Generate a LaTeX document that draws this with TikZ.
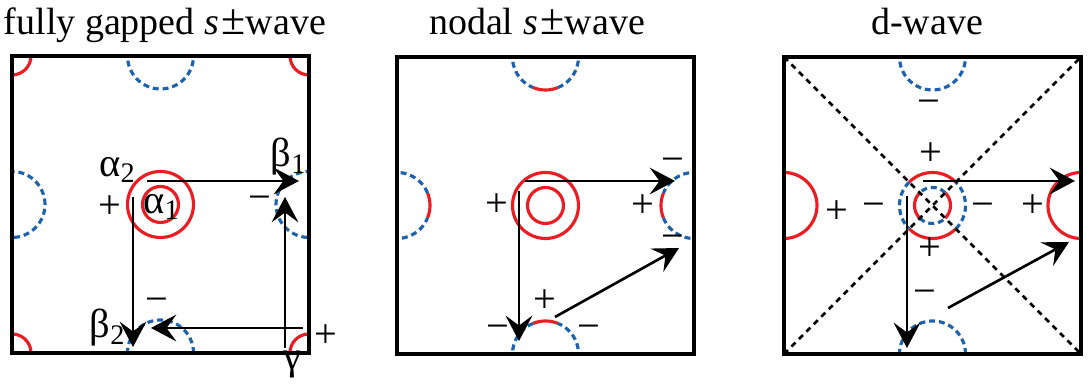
\documentclass[tikz,border=0pt]{standalone}
\usepackage{fontspec}
\setmainfont{Liberation Serif}
\newfontfamily\figserif{Liberation Serif}
\usetikzlibrary{arrows.meta}
\definecolor{fsred}{RGB}{232,30,36}
\definecolor{fsblue}{RGB}{30,98,172}
\tikzset{
    bzone/.style={line width=1pt},
    holepkt/.style={fsblue, line width=0.9pt, dash pattern=on 1.7pt off 1.1pt},
    elecpkt/.style={fsred, line width=0.9pt},
    nodeline/.style={line width=0.75pt, dash pattern=on 1.6pt off 1.4pt},
    qvec/.style={line width=0.75pt, -{Stealth[length=7.2pt,width=7.6pt,inset=2.8pt]}},
    sgn/.style={font=\figserif\fontsize{11.5}{13}\selectfont, inner sep=0pt},
    ttl/.style={font=\figserif\fontsize{10.8}{14}\selectfont, anchor=base, inner sep=0pt}
}
\newcommand{\spm}{\textit{s}\kern0.8pt{\fontsize{12.5}{14}\selectfont ±}}

\begin{document}
\begin{tikzpicture}[x=0.01cm,y=0.01cm]
    \useasboundingbox (0,0) rectangle (1090,389);

    % --- titles ---
    \node[ttl] (ttlA) at (165,354) {fully gapped \spm wave};
    \node[ttl] (ttlB) at (537,354) {nodal \spm wave};
    \node[ttl] (ttlC) at (927,354) {d-wave};

    % --- fully gapped s+- (left) ---
    \begin{scope}[shift={(12,36)}]
        \begin{scope}
            \clip (0,0) rectangle (297,297);
            \foreach \cx/\cy in {0/0,297/0,0/297,297/297}
                \draw[elecpkt] (\cx,\cy) circle (19);
            \foreach \cx/\cy in {148.5/0,148.5/297,0/148.5,297/148.5}
                \draw[holepkt] (\cx,\cy) circle (33);
        \end{scope}
        \draw[elecpkt] (148.5,148.5) circle (33) (148.5,148.5) circle (18);
        \draw[bzone] (0,0) rectangle (297,297);

        % scattering vectors
        \coordinate (Aa) at (135,172); \coordinate (Ab) at (287,172);
        \coordinate (Ac) at (121,156); \coordinate (Ad) at (121,6);
        \coordinate (Ae) at (273,5);   \coordinate (Af) at (273,156);
        \coordinate (Ag) at (291,25);  \coordinate (Ah) at (139,25);
        \draw[qvec] (Aa) -- (Ab);
        \draw[qvec] (Ac) -- (Ad);
        \draw[qvec] (Ae) -- (Af);
        \draw[qvec] (Ag) -- (Ah);

        % labels
        \node[sgn] (alphaB) at (106,183) {α\textsubscript{2}};
        \node[sgn] (alphaA) at (150,146) {α\textsubscript{1}};
        \node[sgn] (betaA) at (277,196) {β\textsubscript{1}};
        \node[sgn] (betaB) at (96,25) {β\textsubscript{2}};
        \node[sgn] (gammaA) at (280,-12) {γ};
        \node[sgn] (sgnAa) at (98,146) {+};
        \node[sgn] (sgnAb) at (248,150) {−};
        \node[sgn] (sgnAc) at (145,48) {−};
        \node[sgn] (sgnAd) at (314,17) {+};
    \end{scope}

    % --- nodal s+- (middle) ---
    \begin{scope}[shift={(397,35)}]
        \begin{scope}
            \clip (0,0) rectangle (297,297);
            \draw[holepkt] (148.5,297) ++(292:33) arc[start angle=292, end angle=608, radius=33];
            \draw[elecpkt] (148.5,297) ++(248:33) arc[start angle=248, end angle=292, radius=33];
            \draw[holepkt] (148.5,0) ++(112:33) arc[start angle=112, end angle=428, radius=33];
            \draw[elecpkt] (148.5,0) ++(68:33) arc[start angle=68, end angle=112, radius=33];
            \draw[holepkt] (0,148.5) ++(22:33) arc[start angle=22, end angle=338, radius=33];
            \draw[elecpkt] (0,148.5) ++(-22:33) arc[start angle=-22, end angle=22, radius=33];
            \draw[holepkt] (297,148.5) ++(202:33) arc[start angle=202, end angle=518, radius=33];
            \draw[elecpkt] (297,148.5) ++(158:33) arc[start angle=158, end angle=202, radius=33];
        \end{scope}
        \draw[elecpkt] (148.5,148.5) circle (33) (148.5,148.5) circle (18);
        \draw[bzone] (0,0) rectangle (297,297);

        % scattering vectors
        \coordinate (Ba) at (128,173); \coordinate (Bb) at (278,173);
        \coordinate (Bc) at (122,163); \coordinate (Bd) at (122,13);
        \coordinate (Be) at (158,37);  \coordinate (Bf) at (282,106);
        \draw[qvec] (Ba) -- (Bb);
        \draw[qvec] (Bc) -- (Bd);
        \draw[qvec] (Be) -- (Bf);

        % signs
        \node[sgn] (sgnBa) at (100,149) {+};
        \node[sgn] (sgnBb) at (246,148) {+};
        \node[sgn] (sgnBc) at (276,189) {−};
        \node[sgn] (sgnBd) at (276,112) {−};
        \node[sgn] (sgnBe) at (148,53) {+};
        \node[sgn] (sgnBf) at (101,22) {−};
        \node[sgn] (sgnBg) at (192,22) {−};
    \end{scope}

    % --- d-wave (right) ---
    \begin{scope}[shift={(784,35)}]
        \begin{scope}
            \clip (0,0) rectangle (297,297);
            \draw[holepkt] (148.5,297) circle (33);
            \draw[holepkt] (148.5,0) circle (33);
            \draw[elecpkt] (0,148.5) circle (33);
            \draw[elecpkt] (297,148.5) circle (33);
        \end{scope}
        % central pockets with sign change
        \draw[elecpkt] (148.5,148.5) ++(45:33) arc[start angle=45, end angle=135, radius=33];
        \draw[elecpkt] (148.5,148.5) ++(225:33) arc[start angle=225, end angle=315, radius=33];
        \draw[holepkt] (148.5,148.5) ++(-45:33) arc[start angle=-45, end angle=45, radius=33];
        \draw[holepkt] (148.5,148.5) ++(135:33) arc[start angle=135, end angle=225, radius=33];
        \draw[elecpkt] (148.5,148.5) ++(-45:18) arc[start angle=-45, end angle=45, radius=18];
        \draw[elecpkt] (148.5,148.5) ++(135:18) arc[start angle=135, end angle=225, radius=18];
        \draw[holepkt] (148.5,148.5) ++(45:18) arc[start angle=45, end angle=135, radius=18];
        \draw[holepkt] (148.5,148.5) ++(225:18) arc[start angle=225, end angle=315, radius=18];

        % nodal lines
        \coordinate (Cll) at (0,0);   \coordinate (Cur) at (297,297);
        \coordinate (Cul) at (0,297); \coordinate (Clr) at (297,0);
        \draw[nodeline] (Cll) -- (Cur);
        \draw[nodeline] (Cul) -- (Clr);
        \draw[bzone] (0,0) rectangle (297,297);

        % scattering vectors
        \coordinate (Ca) at (139,173); \coordinate (Cb) at (291,173);
        \coordinate (Cc) at (123,158); \coordinate (Cd) at (123,6);
        \coordinate (Ce) at (164,46);  \coordinate (Cf) at (285,112);
        \draw[qvec] (Ca) -- (Cb);
        \draw[qvec] (Cc) -- (Cd);
        \draw[qvec] (Ce) -- (Cf);

        % signs
        \node[sgn] (sgnCa) at (145,247) {−};
        \node[sgn] (sgnCb) at (147,200) {+};
        \node[sgn] (sgnCc) at (53,142) {+};
        \node[sgn] (sgnCd) at (90,144) {−};
        \node[sgn] (sgnCe) at (199,144) {−};
        \node[sgn] (sgnCf) at (249,148) {+};
        \node[sgn] (sgnCg) at (146,105) {+};
        \node[sgn] (sgnCh) at (141,57) {−};
    \end{scope}
\end{tikzpicture}
\end{document}
